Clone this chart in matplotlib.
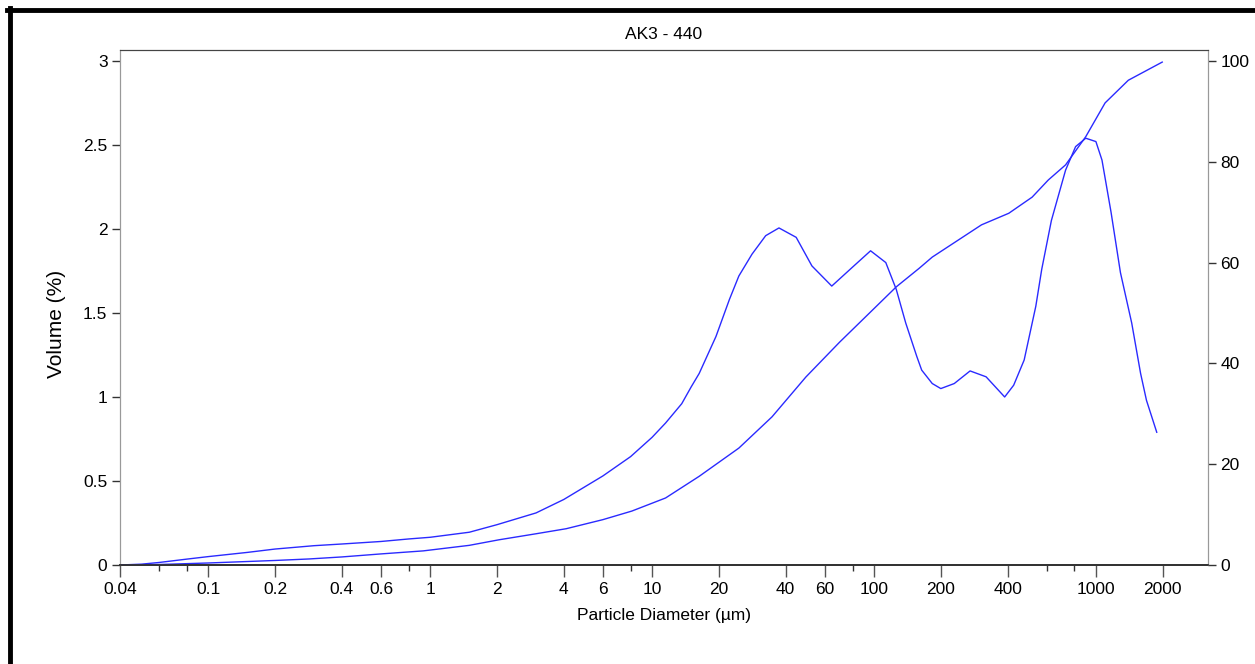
import matplotlib.pyplot as plt
from matplotlib.lines import Line2D
from matplotlib.ticker import FixedLocator, NullFormatter

plt.rcParams['font.family'] = ['Liberation Sans', 'DejaVu Sans']

# particle diameter (um) and volume (%) - frequency curve, left axis
size_freq = [0.04, 0.05, 0.06, 0.08, 0.1, 0.15, 0.2, 0.3, 0.4, 0.6, 0.8, 1, 1.5, 2, 3, 4, 6, 8,
             10, 11.5, 13.6, 15, 16.3, 19.4, 22.3, 24.6, 28.2, 32.5, 37.3, 44.6, 52.5, 64.5,
             79.6, 96.5, 113, 126, 139, 156, 164, 183, 200, 230, 271, 320, 388, 426, 475,
             536, 570, 630, 730, 810, 900, 1000, 1065, 1170, 1290, 1450, 1590, 1690, 1880]
volume = [0.0, 0.005, 0.015, 0.035, 0.05, 0.075, 0.095, 0.115, 0.125, 0.14, 0.155, 0.165, 0.195,
          0.24, 0.31, 0.39, 0.53, 0.645, 0.76, 0.845, 0.96, 1.06, 1.14, 1.36, 1.58, 1.72, 1.85,
          1.96, 2.006, 1.95, 1.78, 1.66, 1.77, 1.87, 1.80, 1.64, 1.44, 1.24, 1.16, 1.08, 1.05,
          1.08, 1.155, 1.12, 1.0, 1.07, 1.22, 1.54, 1.76, 2.05, 2.35, 2.49, 2.54, 2.52, 2.41,
          2.1, 1.74, 1.44, 1.14, 0.98, 0.79]

# cumulative volume (%) - right axis
size_cum = [0.04, 0.06, 0.1, 0.2, 0.285, 0.4, 0.6, 0.93, 1.5, 2.04, 3, 4.1, 6, 8.1, 11.5, 16.3,
            24.6, 34.7, 49.3, 69.9, 98.5, 126, 160, 183, 305, 405, 516, 610, 730, 900, 1100,
            1400, 1990]
cumulative = [0.0, 0.1, 0.4, 0.9, 1.2, 1.6, 2.2, 2.8, 3.9, 5.0, 6.2, 7.2, 9.0, 10.7, 13.3, 17.6,
              23.2, 29.4, 37.3, 44.2, 50.6, 55.2, 58.9, 61.1, 67.5, 69.8, 73.0, 76.4, 79.4, 85.0,
              91.7, 96.2, 99.8]

x_ticks = [0.04, 0.1, 0.2, 0.4, 0.6, 1, 2, 4, 6, 10, 20, 40, 60, 100, 200, 400, 1000, 2000]
x_labels = ['0.04', '0.1', '0.2', '0.4', '0.6', '1', '2', '4', '6', '10', '20', '40', '60',
            '100', '200', '400', '1000', '2000']
x_minor = [0.06, 0.08, 0.8, 8, 80, 600, 800]

line_col = '#2a2aff'
fs = 12.5

fig = plt.figure(figsize=(12.55, 6.64), dpi=100)
ax = fig.add_axes([120 / 1255, (664 - 565) / 664, (1208 - 120) / 1255, (565 - 50) / 664])
ax2 = ax.twinx()

ax.plot(size_freq, volume, color=line_col, lw=1.0)
ax2.plot(size_cum, cumulative, color=line_col, lw=1.0)

ax.set_xscale('log')
ax.set_xlim(0.04, 3200)
ax.set_ylim(0, 3.065)
ax2.set_ylim(0, 102.2)

ax.xaxis.set_major_locator(FixedLocator(x_ticks))
ax.set_xticklabels(x_labels)
ax.xaxis.set_minor_locator(FixedLocator(x_minor))
ax.xaxis.set_minor_formatter(NullFormatter())
ax.set_yticks([0, 0.5, 1, 1.5, 2, 2.5, 3])
ax.set_yticklabels(['0', '0.5', '1', '1.5', '2', '2.5', '3'])
ax2.set_yticks([0, 20, 40, 60, 80, 100])

ax.tick_params(axis='x', which='major', length=8.5, width=1, color='#555555',
               labelsize=fs, pad=4)
ax.tick_params(axis='x', which='minor', length=4, width=1, color='#333333')
ax.tick_params(axis='y', length=6, width=1, color='#333333', labelsize=fs, pad=3)
ax2.tick_params(axis='y', length=6, width=1, color='#333333', labelsize=fs, pad=3)

for a in (ax, ax2):
    a.spines['top'].set_color('#444444')
    a.spines['bottom'].set_color('#333333')
    a.spines['left'].set_color('#999999')
    a.spines['right'].set_color('#999999')
    a.spines['bottom'].set_linewidth(1.3)

ax.set_title('AK3 - 440', fontsize=fs, pad=8)
ax.set_xlabel('Particle Diameter (µm)', fontsize=fs, labelpad=8)
fig.text(57 / 1255, 1 - 324 / 664, 'Volume (%)', rotation=90, fontsize=15,
         ha='center', va='center')

# black frame round the picture
fig.add_artist(Line2D([7 / 1255, 1], [1 - 10 / 664, 1 - 10 / 664], color='black', lw=3.5,
                      transform=fig.transFigure))
fig.add_artist(Line2D([10 / 1255, 10 / 1255], [0, 1 - 8 / 664], color='black', lw=3.5,
                      transform=fig.transFigure))

fig.savefig('out.png', dpi=100)
